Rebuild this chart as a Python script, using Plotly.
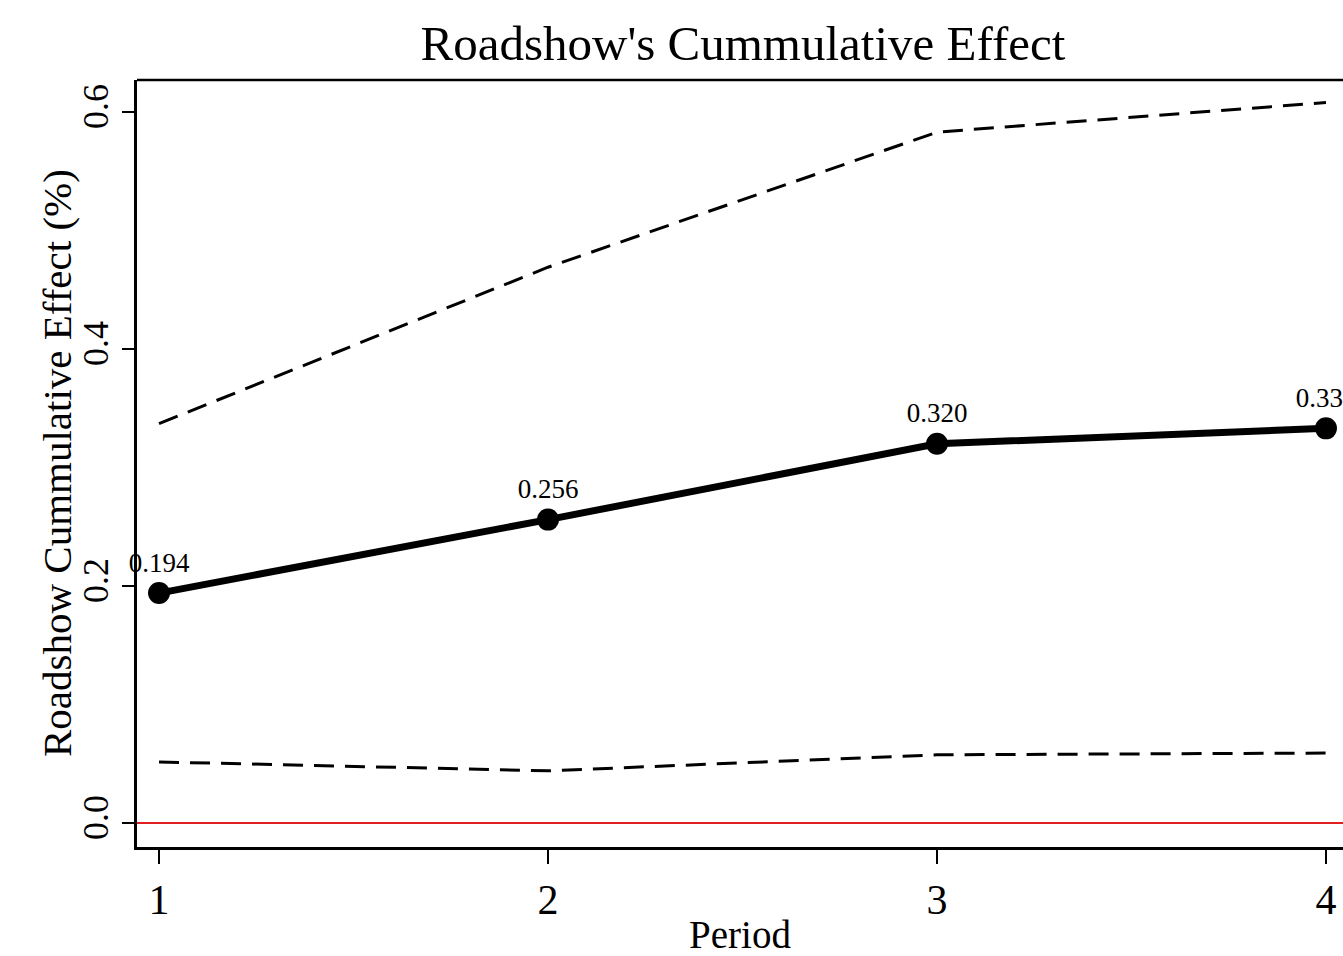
import plotly.graph_objects as go

periods = [1, 2, 3, 4]
effect = [0.194, 0.256, 0.320, 0.333]
upper_ci = [0.337, 0.469, 0.583, 0.608]
lower_ci = [0.0515, 0.0440, 0.0575, 0.0590]
effect_labels = ["0.194", "0.256", "0.320", "0.333"]
y_ticks = [0.0, 0.2, 0.4, 0.6]
y_tick_labels = ["0.0", "0.2", "0.4", "0.6"]

FONT = "Liberation Serif, Times New Roman, serif"

fig = go.Figure()

fig.add_trace(go.Scatter(x=periods, y=upper_ci, mode="lines",
                         line=dict(color="black", width=3, dash="20px,11px"),
                         showlegend=False, hoverinfo="skip"))
fig.add_trace(go.Scatter(x=periods, y=lower_ci, mode="lines",
                         line=dict(color="black", width=3, dash="20px,11px"),
                         showlegend=False, hoverinfo="skip"))
fig.add_trace(go.Scatter(x=periods, y=effect, mode="lines+markers+text",
                         line=dict(color="black", width=7),
                         marker=dict(color="black", size=22),
                         text=effect_labels, textposition="top center",
                         textfont=dict(family=FONT, size=27, color="black"),
                         cliponaxis=False,
                         showlegend=False, hoverinfo="skip"))

fig.add_hline(y=0, line=dict(color="#e02020", width=2))

fig.update_layout(
    width=1343, height=956,
    margin=dict(l=137, r=0, t=80, b=109),
    paper_bgcolor="white", plot_bgcolor="white",
    font=dict(family=FONT, color="black"),
    title=dict(text="Roadshow's Cummulative Effect", x=0.5532, xanchor="center",
               y=0.955, yanchor="middle",
               font=dict(family=FONT, size=49, color="black")),
    xaxis=dict(range=[0.9434, 4.0437], tickvals=periods, ticktext=[str(p) for p in periods],
               showgrid=False, zeroline=False, showline=True, linecolor="black", linewidth=2.5,
               mirror=False, ticks="outside", ticklen=14, tickwidth=2, tickcolor="black",
               tickfont=dict(family=FONT, size=42),
               title=dict(text="Period", font=dict(family=FONT, size=39), standoff=7)),
    yaxis=dict(range=[-0.0203, 0.627], tickvals=y_ticks, ticktext=y_tick_labels,
               showgrid=False, zeroline=False, showline=True, linecolor="black", linewidth=2.5,
               ticks="outside", ticklen=12, tickwidth=2, tickcolor="black", tickangle=-90,
               tickfont=dict(family=FONT, size=36)),
)

fig.add_annotation(text="Roadshow Cummulative Effect (%)", xref="paper", yref="paper",
                   x=-0.0667, y=0.5, xanchor="center", yanchor="middle", textangle=-90,
                   showarrow=False, font=dict(family=FONT, size=41, color="black"))

# top frame line (right side is cut off in the reference)
fig.add_shape(type="line", xref="paper", yref="paper", x0=0, x1=1, y0=1, y1=1,
              line=dict(color="black", width=2.5))

fig.write_html("out.html", config={"displayModeBar": False},
               post_script="document.body.style.margin='0';document.body.style.overflow='hidden';")
